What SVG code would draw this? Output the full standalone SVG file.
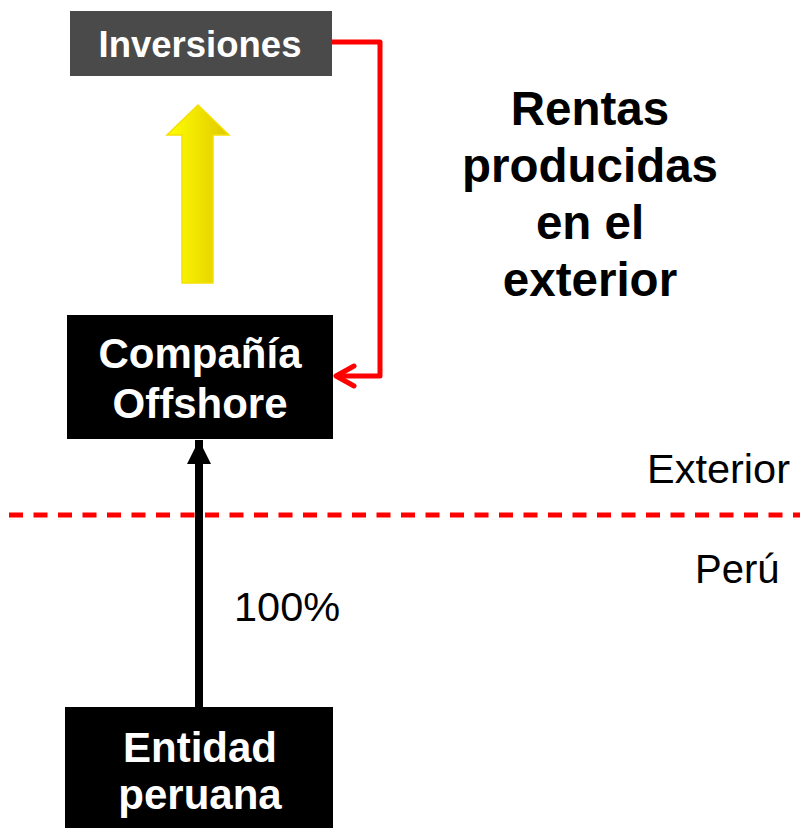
<svg xmlns="http://www.w3.org/2000/svg" width="800" height="828" viewBox="0 0 800 828">
<style>
.b{font-family:"Liberation Sans",Arial,sans-serif;font-weight:bold;text-anchor:middle}
.w{fill:#fff}
.r{font-family:"Liberation Sans",Arial,sans-serif;fill:#000}
</style>
<defs>
<linearGradient id="yg" x1="0" y1="0" x2="1" y2="0">
<stop offset="0" stop-color="#ffff00"/>
<stop offset="1" stop-color="#e0c800"/>
</linearGradient>
<marker id="ah" markerUnits="userSpaceOnUse" markerWidth="26" markerHeight="26" viewBox="0 0 26 26" refX="24" refY="13" orient="auto">
<path d="M0,1 L24,13 L0,25 Z" fill="#000"/>
</marker>
</defs>
<rect width="800" height="828" fill="#fff"/>
<g id="connectors">
<polyline points="332,42 380,42 380,376 336,376" fill="none" stroke="#f00" stroke-width="5" stroke-linejoin="round"/>
<polyline points="354,366 336,376 354,386" fill="none" stroke="#f00" stroke-width="5" stroke-linecap="round" stroke-linejoin="round"/>
<line x1="199" y1="708" x2="199" y2="440" stroke="#000" stroke-width="8" marker-end="url(#ah)"/>
<path d="M198,105 L229,135 L213,135 L213,283 L182,283 L182,135 L167,135 Z" fill="url(#yg)" stroke="#f5e000" stroke-width="1.5"/>
</g>
<line x1="9" y1="515" x2="800" y2="515" stroke="#f00" stroke-width="5" stroke-dasharray="14,10.5"/>
<g id="inversiones">
<rect x="70" y="11" width="262" height="65" fill="#4a4a4a"/>
<text class="b w" x="200" y="57" font-size="36.5">Inversiones</text>
</g>
<g id="offshore">
<rect x="67" y="315" width="266" height="124" fill="#000"/>
<text class="b w" x="200" y="368" font-size="42">Compañía</text>
<text class="b w" x="200" y="418" font-size="42">Offshore</text>
</g>
<g id="entidad">
<rect x="65" y="707" width="268" height="130" fill="#000"/>
<text class="b w" x="200" y="762" font-size="42">Entidad</text>
<text class="b w" x="200" y="809" font-size="42">peruana</text>
</g>
<g id="rentas">
<text class="b" x="590" y="125" font-size="47.5">Rentas</text>
<text class="b" x="590" y="182" font-size="47.5">producidas</text>
<text class="b" x="590" y="239" font-size="47.5">en el</text>
<text class="b" x="590" y="296" font-size="47.5">exterior</text>
</g>
<text class="r" x="647" y="483" font-size="41.5">Exterior</text>
<text class="r" x="695" y="583" font-size="40">Perú</text>
<text class="r" x="234" y="621" font-size="41.5">100%</text>
</svg>
